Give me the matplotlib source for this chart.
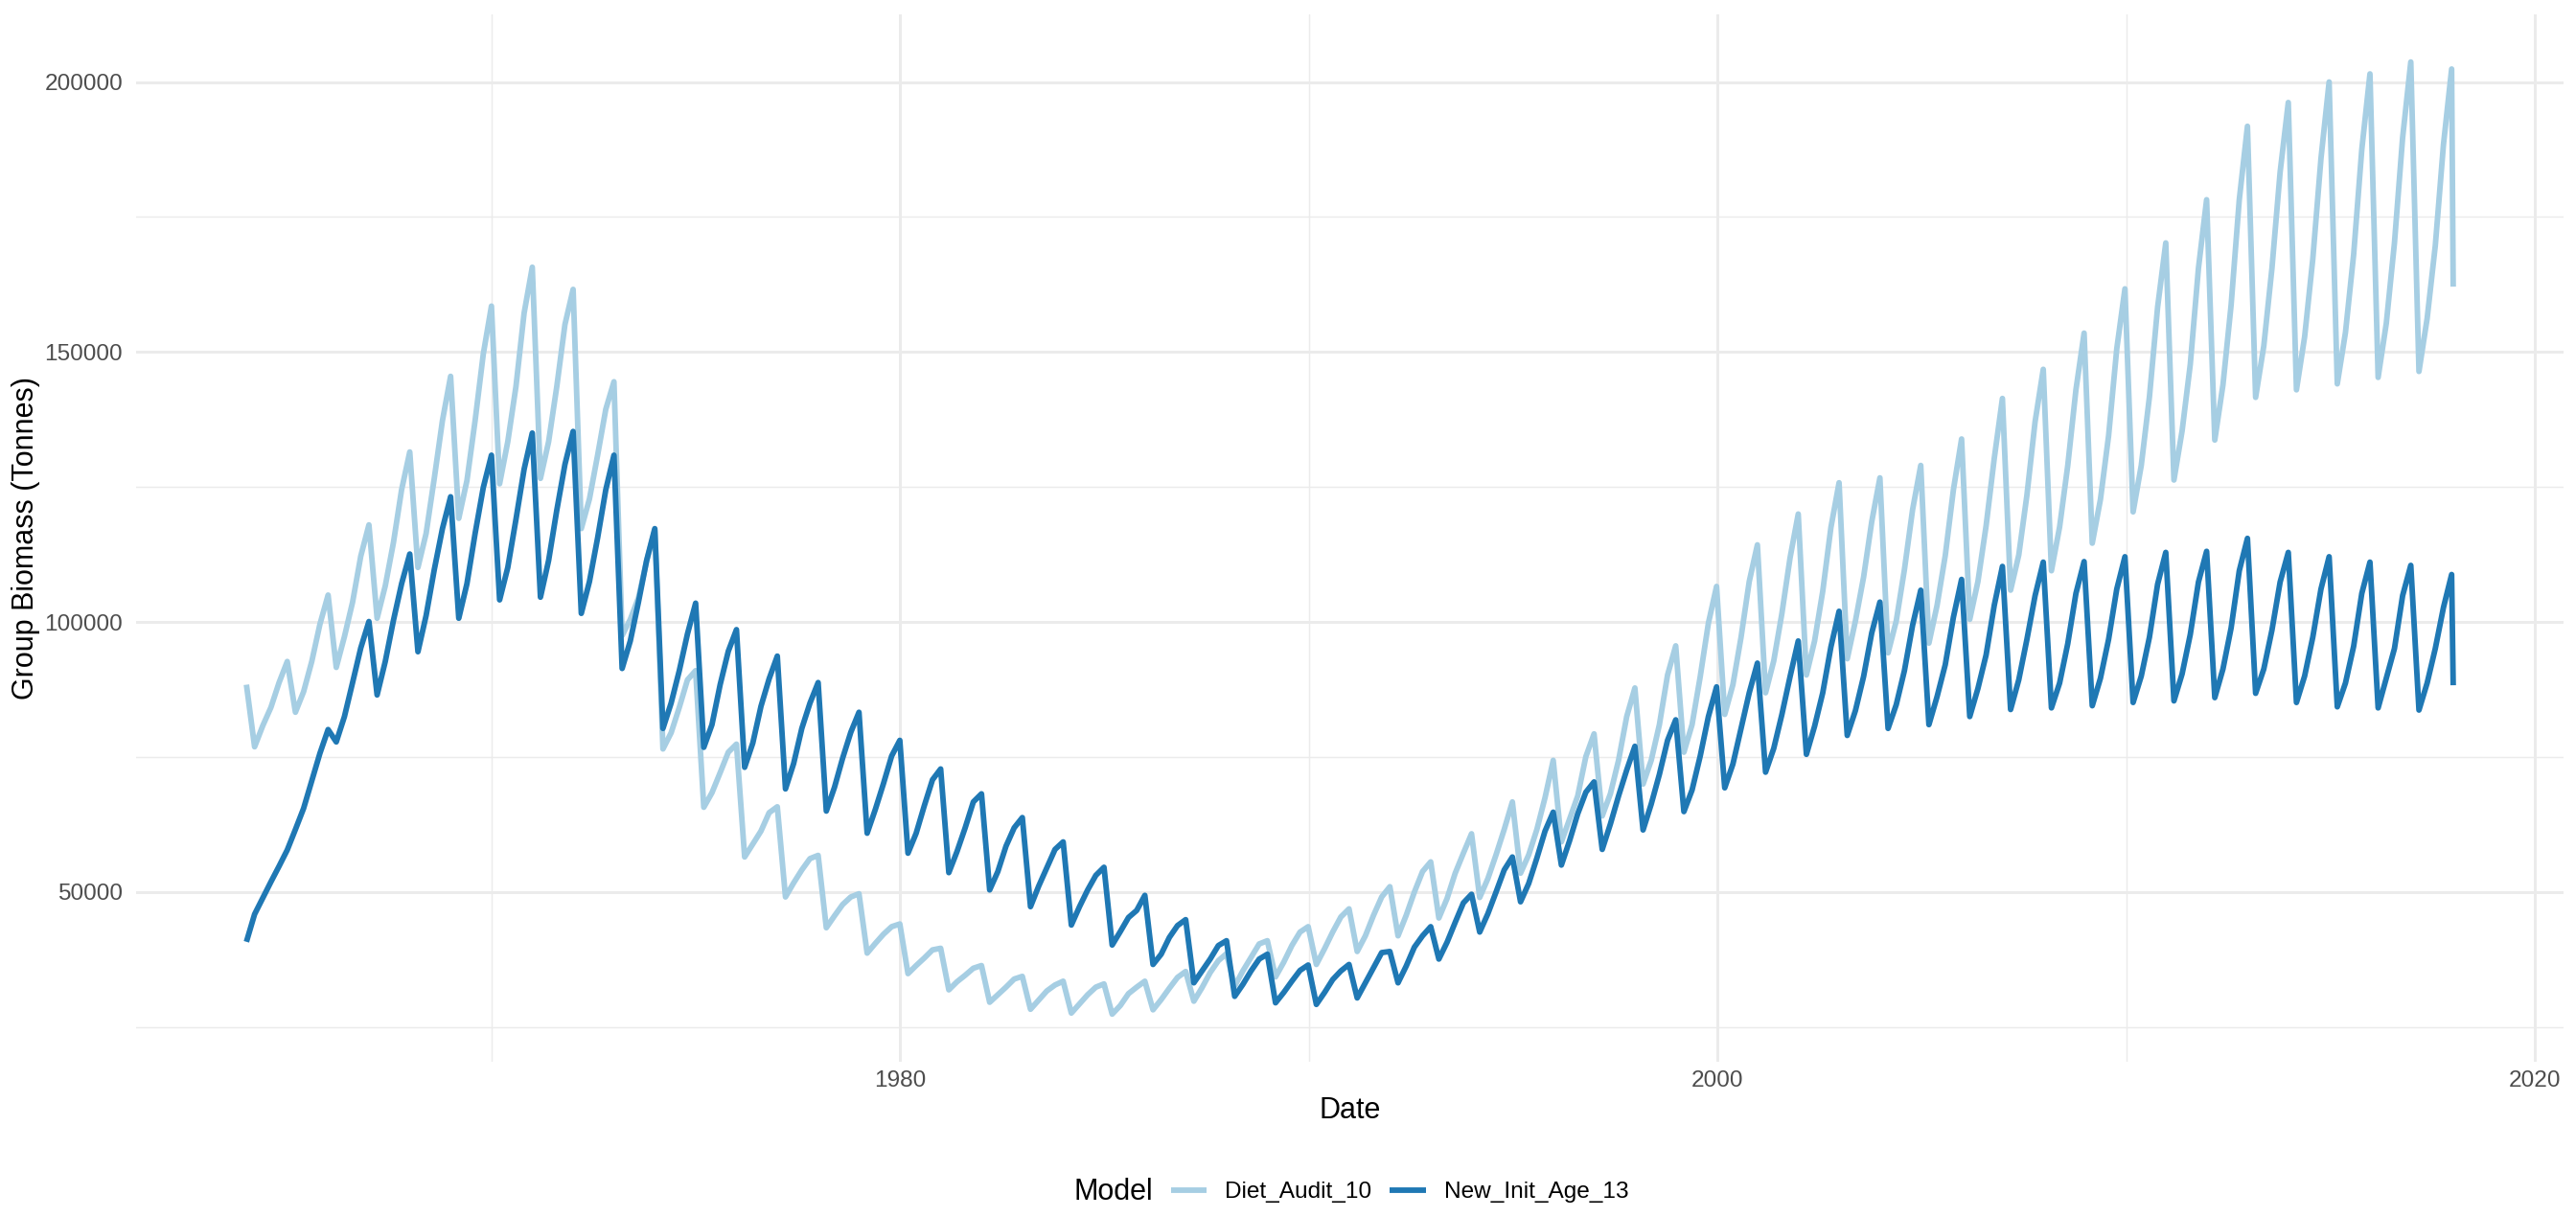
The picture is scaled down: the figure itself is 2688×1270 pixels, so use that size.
"""Group biomass of two Atlantis model runs, 1964-2018 (73-day output steps)."""
import matplotlib
matplotlib.use("Agg")
import matplotlib.pyplot as plt
from matplotlib.lines import Line2D

START_YEAR = 1964
# output time in days since 1964-01-01: 73-day steps, plus the final write
days = [73 * k for k in range(271)] + [19724]

# Diet_Audit_10, one row per model year (trough ... peak)
diet_audit_10 = [88400,
    76900, 80800, 84200, 88800, 92700,
    83300, 87100, 92700, 99600, 105000,
    91600, 97300, 103700, 112200, 118000,
    100700, 106700, 114700, 124500, 131500,
    110100, 116400, 126600, 137300, 145500,
    119200, 126200, 137300, 149600, 158500,
    125600, 133400, 143600, 157200, 165700,
    126600, 133400, 143600, 155100, 161600,
    117300, 122800, 130900, 139400, 144500,
    97500, 100500, 104500, 111300, 117000,
    76500, 79500, 84200, 89300, 91000,
    65700, 68400, 72100, 75900, 77400,
    56500, 58900, 61300, 64700, 65800,
    49100, 51700, 54100, 56200, 56800,
    43400, 45600, 47700, 49100, 49700,
    38700, 40500, 42200, 43600, 44100,
    34900, 36400, 37800, 39300, 39600,
    31900, 33400, 34600, 35900, 36400,
    29600, 31000, 32400, 33900, 34400,
    28300, 30000, 31700, 32800, 33500,
    27600, 29300, 31000, 32400, 33000,
    27400, 29000, 31200, 32400, 33500,
    28200, 30100, 32200, 34200, 35300,
    29800, 32300, 35100, 37300, 38600,
    32600, 35400, 37900, 40400, 41000,
    34300, 37000, 40100, 42600, 43600,
    36600, 39500, 42600, 45400, 46900,
    39000, 41900, 45700, 49100, 51000,
    41900, 45700, 50000, 53800, 55600,
    45200, 48800, 53500, 57200, 60800,
    49000, 52500, 56900, 61600, 66700,
    53500, 56900, 61600, 67500, 74400,
    59300, 63500, 67800, 75100, 79300,
    64100, 68200, 74400, 82500, 87800,
    70000, 74400, 81000, 90200, 95600,
    75900, 81000, 89900, 99800, 106600,
    82900, 88400, 97200, 107500, 114300,
    86900, 92800, 101600, 111900, 120000,
    90200, 96500, 105700, 117500, 125800,
    93200, 100200, 108300, 118600, 126700,
    94300, 100200, 109700, 120800, 129000,
    96100, 103100, 112300, 124500, 133900,
    100500, 107500, 117800, 130300, 141400,
    105900, 112400, 123500, 137100, 146800,
    109500, 117600, 129000, 143000, 153500,
    114600, 122700, 134500, 150600, 161700,
    120400, 129000, 141700, 158300, 170200,
    126300, 135400, 147700, 165500, 178200,
    133700, 143900, 158700, 178200, 191800,
    141600, 151100, 165500, 183300, 196200,
    143000, 152800, 167200, 185800, 200000,
    144100, 153600, 168000, 187500, 201500,
    145300, 155300, 170200, 189700, 203700,
    146400, 156200, 169700, 188400, 202400,
    162100]

new_init_age_13 = [40800,
    45900, 48900, 51900, 54800, 57800,
    61600, 65500, 70600, 75700, 80100,
    77800, 82500, 88800, 95200, 100100,
    86500, 92700, 100300, 107100, 112600,
    94500, 101200, 109700, 117300, 123200,
    100700, 107100, 116400, 124900, 130900,
    104100, 110100, 119000, 128300, 135000,
    104600, 111400, 120700, 129200, 135300,
    101600, 107500, 115600, 124500, 130900,
    91400, 96500, 103700, 111400, 117300,
    80300, 85000, 91000, 97800, 103500,
    76800, 81000, 88400, 94600, 98600,
    73100, 77600, 84400, 89500, 93700,
    69100, 73800, 80300, 85000, 88800,
    65000, 69400, 74800, 79600, 83300,
    60900, 65300, 70100, 75200, 78100,
    57200, 60900, 66000, 70800, 72800,
    53600, 57500, 61900, 66700, 68200,
    50400, 53800, 58500, 61900, 63800,
    47300, 51100, 54500, 57900, 59300,
    43900, 47300, 50400, 53100, 54600,
    40200, 42700, 45300, 46600, 49400,
    36600, 38500, 41600, 43800, 44900,
    33200, 35400, 37600, 40100, 41000,
    30700, 32900, 35400, 37600, 38500,
    29500, 31400, 33500, 35500, 36500,
    29200, 31400, 33800, 35400, 36600,
    30400, 33200, 36000, 38800, 39000,
    33200, 36300, 39800, 41900, 43600,
    37600, 40700, 44400, 48000, 49600,
    42600, 46000, 50000, 54100, 56500,
    48200, 51600, 56300, 61300, 64800,
    55000, 59500, 64500, 68500, 70400,
    57900, 62600, 67800, 72600, 77000,
    61500, 66300, 71800, 78100, 81900,
    64900, 68900, 75200, 82500, 88000,
    69300, 73700, 80300, 86900, 92400,
    72200, 76600, 82900, 89900, 96500,
    75500, 80700, 86900, 95400, 102000,
    79000, 83600, 89900, 98000, 103700,
    80300, 84700, 91000, 99400, 105900,
    81000, 86200, 92100, 100900, 107900,
    82500, 87700, 93900, 103100, 110300,
    83800, 89300, 96800, 104900, 111100,
    84100, 88700, 96000, 105300, 111200,
    84500, 89600, 96800, 106100, 112100,
    85100, 90000, 97200, 107000, 112900,
    85400, 90400, 97700, 107400, 113100,
    86000, 91300, 98900, 109500, 115500,
    86800, 91300, 98500, 107400, 112900,
    85100, 90000, 97200, 106100, 112100,
    84300, 88700, 95500, 105300, 111100,
    84100, 89600, 95100, 104900, 110500,
    83700, 88700, 95100, 102700, 108800,
    88300]

models = ["Diet_Audit_10", "New_Init_Age_13"]
colors = ["#A6CEE3", "#1F78B4"]

x_breaks = [1980, 2000, 2020]
x_minor = [1970, 1990, 2010]
y_breaks = [50000, 100000, 150000, 200000]
y_minor = [25000, 75000, 125000, 175000]


def main():
    plt.rcParams["font.family"] = ["Liberation Sans", "DejaVu Sans"]
    W, H, DPI = 2688, 1270, 200
    fig = plt.figure(figsize=(W / DPI, H / DPI), dpi=DPI)
    # panel box in pixels: left 142, right 2675, top 15, bottom 1108
    ax = fig.add_axes([142 / W, 1 - 1108 / H, (2675 - 142) / W, (1108 - 15) / H])

    years = [START_YEAR + d / 365.25 for d in days]
    for name, vals, col in zip(models, [diet_audit_10, new_init_age_13], colors):
        ax.plot(years, vals, color=col, lw=2.1, solid_joinstyle="round",
                solid_capstyle="butt", label=name)

    xr = (years[0], years[-1])
    yr = (min(min(diet_audit_10), min(new_init_age_13)),
          max(max(diet_audit_10), max(new_init_age_13)))
    ax.set_xlim(xr[0] - 0.05 * (xr[1] - xr[0]), xr[1] + 0.05 * (xr[1] - xr[0]))
    ax.set_ylim(yr[0] - 0.05 * (yr[1] - yr[0]), yr[1] + 0.05 * (yr[1] - yr[0]))

    ax.set_xticks(x_breaks)
    ax.set_xticks(x_minor, minor=True)
    ax.set_yticks(y_breaks)
    ax.set_yticks(y_minor, minor=True)
    ax.set_yticklabels([str(v) for v in y_breaks])
    ax.grid(which="major", color="#EBEBEB", lw=1.07)
    ax.grid(which="minor", color="#EBEBEB", lw=0.53)
    ax.set_axisbelow(True)
    for s in ax.spines.values():
        s.set_visible(False)
    ax.tick_params(which="both", length=0, labelsize=8.8, labelcolor="#4D4D4D")
    ax.tick_params(axis="y", pad=5)
    ax.tick_params(axis="x", pad=3.3)

    ax.set_xlabel("Date", fontsize=11)
    ax.xaxis.set_label_coords(0.5, (1108 - 1144) / (1108 - 15))
    ax.xaxis.label.set_verticalalignment("top")
    ax.set_ylabel("Group Biomass (Tonnes)", fontsize=11)
    ax.yaxis.set_label_coords((27.5 - 142) / (2675 - 142), 0.5)
    ax.yaxis.label.set_verticalalignment("center")

    # legend at the bottom, title to the left of the keys
    ly = 1 - 1244 / H
    fig.text(1203 / W, ly, "Model", fontsize=11, ha="right", va="center")
    handles = [Line2D([], [], color=c, lw=2.1, solid_capstyle="butt") for c in colors]
    fig.legend(handles, models, loc="center left", bbox_to_anchor=(1222 / W, ly),
               ncol=2, frameon=False, fontsize=8.8, handlelength=1.52,
               handletextpad=0.78, columnspacing=0.78, borderpad=0, borderaxespad=0)

    fig.savefig("out.png", dpi=DPI, facecolor="white")


if __name__ == "__main__":
    main()
